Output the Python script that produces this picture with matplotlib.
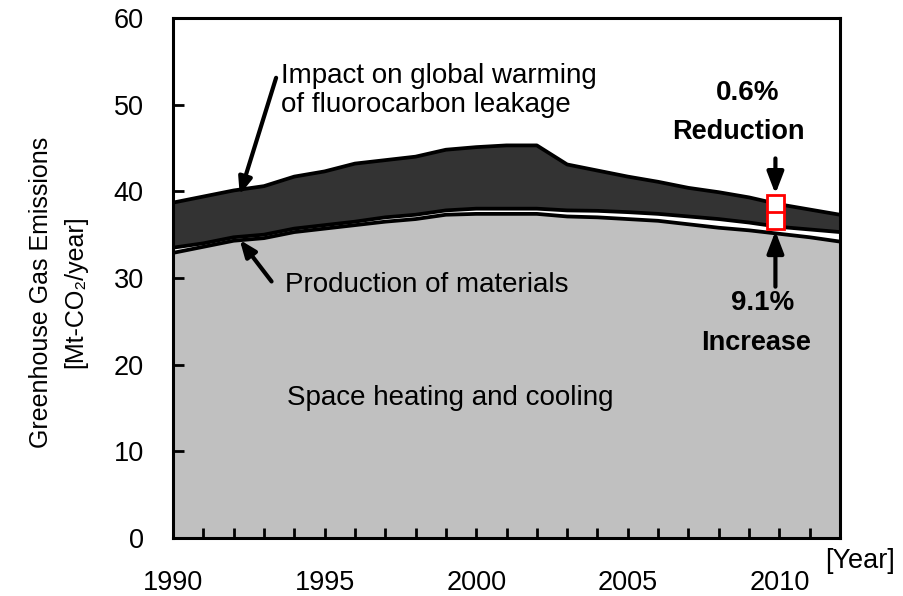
import numpy as np
import matplotlib
matplotlib.use("Agg")
import matplotlib.pyplot as plt
from matplotlib.patches import Rectangle

plt.rcParams['font.family'] = ['Liberation Sans', 'DejaVu Sans']

# data [Mt-CO2/year]
years = list(range(1990, 2013))
heating = [32.9, 33.6, 34.3, 34.6, 35.3, 35.7, 36.1, 36.5, 36.8, 37.3, 37.4, 37.4,
           37.4, 37.1, 37.0, 36.8, 36.6, 36.2, 35.8, 35.5, 35.1, 34.7, 34.2]
materials = [0.6, 0.4, 0.4, 0.4, 0.4, 0.4, 0.4, 0.5, 0.5, 0.5, 0.6, 0.6,
             0.6, 0.7, 0.75, 0.8, 0.8, 0.9, 1.0, 0.9, 0.8, 0.9, 1.1]
fluorocarbon = [5.2, 5.4, 5.4, 5.6, 6.0, 6.2, 6.7, 6.6, 6.7, 7.0, 7.1, 7.3,
                7.3, 5.3, 4.65, 4.1, 3.7, 3.3, 3.1, 2.9, 2.6, 2.3, 2.0]
year_labels = ['1990', '1995', '2000', '2005', '2010']

x = np.array(years)
h = np.array(heating)
m = h + np.array(materials)
t = m + np.array(fluorocarbon)

fig = plt.figure(figsize=(9.04, 5.96), dpi=100)
ax = fig.add_axes([0.1914, 0.0973, 0.7378, 0.8725])

ax.fill_between(x, 0, h, color='#c0c0c0', lw=0)
ax.fill_between(x, h, m, color='white', lw=0)
ax.fill_between(x, m, t, color='#333333', lw=0)
for line in (h, m, t):
    ax.plot(x, line, color='black', lw=2.7, solid_joinstyle='round')

ax.set_xlim(1990, 2012)
ax.set_ylim(0, 60)
ax.set_yticks(range(0, 61, 10))
ax.set_xticks(years)
ax.set_xticklabels([str(y) if str(y) in year_labels else '' for y in years])
ax.tick_params(axis='both', direction='in', width=2, labelsize=19.5)
ax.tick_params(axis='x', length=7, pad=23)
ax.tick_params(axis='y', length=8, pad=21)
for s in ax.spines.values():
    s.set_linewidth(2.2)

# y label in two lines
fig.text(0.045, 0.51, 'Greenhouse Gas Emissions', rotation=90, ha='center', va='center', fontsize=18)
fig.text(0.083, 0.51, '[Mt-CO\u2082/year]', rotation=90, ha='center', va='center', fontsize=18)
fig.text(0.951, 0.059, '[Year]', ha='center', va='center', fontsize=19.5)

# labels inside the plot
ax.text(1993.55, 51.6, 'Impact on global warming\nof fluorocarbon leakage', fontsize=20,
        va='center', ha='left', linespacing=1.15)
ax.text(1993.7, 29.2, 'Production of materials', fontsize=20, va='center')
ax.text(1993.76, 16.1, 'Space heating and cooling', fontsize=20, va='center')

arr = dict(arrowstyle='-|>,head_length=1.0,head_width=0.4', color='black', lw=3,
           shrinkA=0, shrinkB=0)
big = dict(arrowstyle='-|>,head_length=1.3,head_width=0.5', color='black', lw=3,
           shrinkA=0, shrinkB=0)
ax.annotate('', xy=(1992.2, 39.6), xytext=(1993.4, 53.1), arrowprops=arr)
ax.annotate('', xy=(1992.2, 34.4), xytext=(1993.25, 29.6), arrowprops=arr)

# red marker box at 2010
bx, bw = 2009.87, 0.55
ax.add_patch(Rectangle((bx - bw / 2, 35.6), bw, 4.0, fc='white', ec='red', lw=2, zorder=5))
ax.plot([bx - bw / 2, bx + bw / 2], [37.6, 37.6], color='red', lw=2, zorder=6)
ax.annotate('', xy=(bx, 39.7), xytext=(bx, 43.8), arrowprops=big, zorder=7)
ax.annotate('', xy=(bx, 35.4), xytext=(bx, 29.0), arrowprops=big, zorder=7)

ax.text(2008.94, 51.3, '0.6%', fontsize=20, fontweight='bold', ha='center', va='center')
ax.text(2008.65, 46.9, 'Reduction', fontsize=19.5, fontweight='bold', ha='center', va='center')
ax.text(2009.44, 27.1, '9.1%', fontsize=20, fontweight='bold', ha='center', va='center')
ax.text(2009.24, 22.5, 'Increase', fontsize=19.5, fontweight='bold', ha='center', va='center')

fig.savefig('out.png', dpi=100)
